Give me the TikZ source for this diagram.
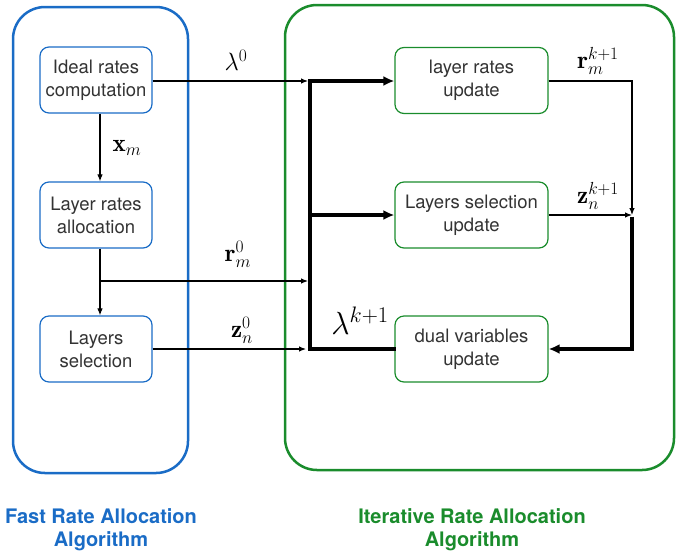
\documentclass[tikz,border=0pt]{standalone}
\usepackage{fix-cm}
\usepackage{fontspec}
\setsansfont{TeX Gyre Heros}
\usepackage{amsmath}
\usetikzlibrary{arrows.meta}
\definecolor{fblue}{HTML}{1A6CC6}
\definecolor{igreen}{HTML}{1A8C2C}
\definecolor{txt}{HTML}{333333}
\begin{document}
\begin{tikzpicture}[x=1pt,y=-1pt,
  container/.style={line width=2.5pt, rounded corners=32pt},
  bbox/.style={draw=fblue, line width=1.2pt, rounded corners=9pt, minimum width=112pt, minimum height=66pt, align=center, text=txt, font=\sffamily\fontsize{18.5}{23}\selectfont, inner sep=0pt},
  gbox/.style={draw=igreen, line width=1.2pt, rounded corners=9pt, minimum width=153pt, minimum height=66pt, align=center, text=txt, font=\sffamily\fontsize{18.5}{23}\selectfont, inner sep=0pt},
  thinarrow/.style={line width=1.1pt, -{Latex[length=7pt,width=5.5pt]}},
  thinline/.style={line width=1.1pt},
  thickline/.style={line width=3.2pt},
  thickarrow/.style={line width=3.2pt, -{Latex[length=11pt,width=10pt]}},
  mlabel/.style={font=\fontsize{25}{28}\selectfont, inner sep=0pt},
  caption/.style={font=\sffamily\bfseries\fontsize{20}{23}\selectfont, align=center}
]
\useasboundingbox (0,0) rectangle (676,555);
% containers
\draw[container, fblue] (13,7) rectangle (188,473);
\draw[container, igreen] (285,5) rectangle (674,470);
% blue boxes
\node[bbox] (irc) at (96,80) {Ideal rates\\computation};
\node[bbox] (lra) at (96,215) {Layer rates\\allocation};
\node[bbox] (ls) at (96,349) {Layers\\selection};
% green boxes
\node[gbox] (lru) at (471.5,80.5) {layer rates\\update};
\node[gbox] (lsu) at (471.5,215) {Layers selection\\update};
\node[gbox] (dvu) at (471.5,349) {dual variables\\update};
% junction coordinates
\coordinate (j1) at (310,81);
\coordinate (j2) at (310,215);
\coordinate (j3) at (310,349);
\coordinate (jr) at (310,281);
\coordinate (split) at (100,281);
\coordinate (r1) at (632,215);
% left side connectors
\draw[thinarrow] (irc.east |- j1) -- ([xshift=-2pt]j1);
\draw[thinarrow] (irc.south -| split) -- (lra.north -| split);
\draw[thinline] (lra.south -| split) -- (split);
\draw[thinarrow] (split) -- ([xshift=-2pt]jr);
\draw[thinarrow] (split) -- (ls.north -| split);
\draw[thinarrow] (ls.east |- j3) -- ([xshift=-4pt]j3);
% thick feedback bus
\draw[thickline, line cap=rect] (dvu.west) -- (j3) -- (j1);
\draw[thickarrow] (j1) -- (lru.west |- j1);
\draw[thickarrow] (j2) -- (lsu.west);
% right side
\draw[thinarrow] (lru.east |- 0,81) -| (r1);
\draw[thinarrow] (lsu.east) -- (r1);
\draw[thickarrow] ([yshift=-1.6pt]r1) |- (dvu.east);
% labels
\node[mlabel] (l0) at (236,60) {$\lambda^{0}$};
\node[mlabel] (xm) at (127,148) {$\mathbf{x}_m$};
\node[mlabel] (rm0) at (238,254) {$\mathbf{r}_m^{0}$};
\node[mlabel] (zn0) at (242,330) {$\mathbf{z}_n^{0}$};
\node[mlabel, font=\fontsize{32}{34}\selectfont] (lk) at (360,321) {$\lambda^{k+1}$};
\node[mlabel] (rmk) at (598,61) {$\mathbf{r}_m^{k+1}$};
\node[mlabel] (znk) at (598,196) {$\mathbf{z}_n^{k+1}$};
% captions
\node[caption, text=fblue] (cap1) at (101,530) {Fast Rate Allocation\\Algorithm};
\node[caption, text=igreen] (cap2) at (472,530) {Iterative Rate Allocation\\Algorithm};
\end{tikzpicture}
\end{document}
